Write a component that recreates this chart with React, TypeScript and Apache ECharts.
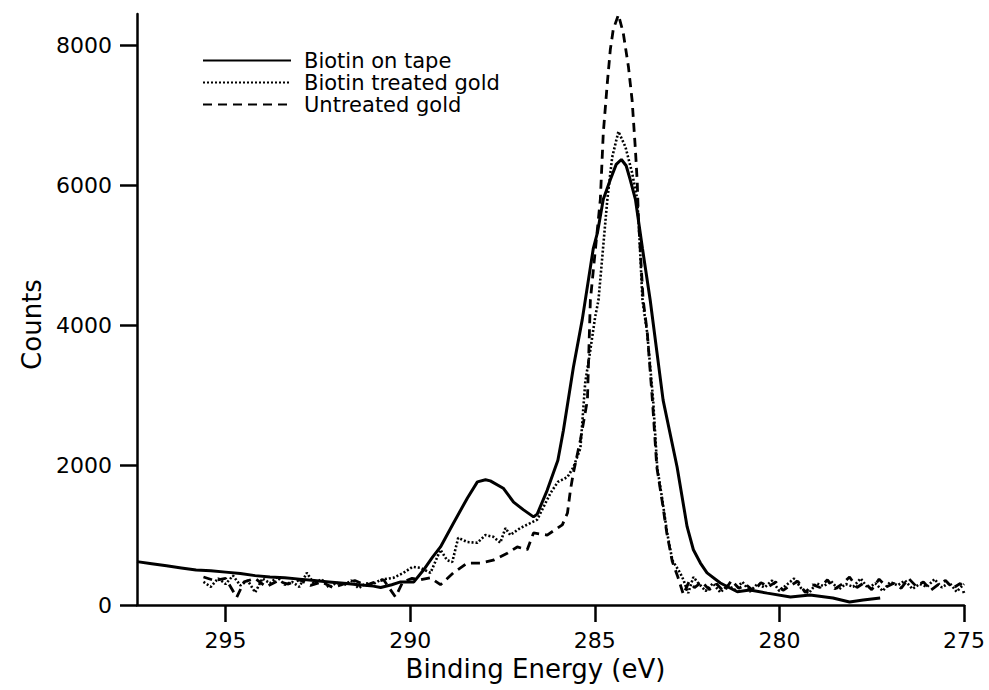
import React, { useEffect, useRef } from "react";
import * as echarts from "echarts";

const xTicks = [295, 290, 285, 280, 275];
const yTicks = [0, 2000, 4000, 6000, 8000];

const seriesNames = ["Biotin on tape", "Biotin treated gold", "Untreated gold"];

const tapeEnergy = [
  297.4, 297.0, 296.6, 296.2, 295.8, 295.4, 295.0, 294.6, 294.2, 293.8, 293.4, 293.0, 292.6, 292.2, 291.8,
  291.4, 291.0, 290.8, 290.5, 290.26, 289.9, 289.64, 289.4, 289.18, 288.83, 288.45, 288.18, 287.96, 287.83,
  287.48, 287.2, 286.93, 286.66, 286.56, 286.29, 286.0, 285.85, 285.58, 285.34, 285.04, 284.93, 284.77, 284.58,
  284.42, 284.28, 284.15, 284.04, 283.9, 283.71, 283.5, 283.15, 282.77, 282.5, 282.33, 282.14, 281.96, 281.6,
  281.14, 280.8, 280.33, 279.7, 279.17, 278.55, 278.1, 277.73, 277.27,
];
const tapeCounts = [
  620, 590, 560, 530, 500, 490, 470, 450, 420, 400, 390, 370, 350, 330, 310,
  290, 270, 250, 290, 330, 330, 500, 680, 830, 1170, 1530, 1760, 1790, 1775,
  1670, 1470, 1360, 1260, 1300, 1640, 2070, 2500, 3400, 4080, 5100, 5320, 5800, 6080,
  6300, 6370, 6280, 6080, 5800, 5100, 4360, 2930, 1970, 1120, 790, 600, 460, 315,
  190, 215, 170, 115, 143, 100, 43, 71, 100,
];

const treatedEnergy = [
  295.6, 295.4, 295.2, 295.0, 294.8, 294.6, 294.4, 294.2, 294.0, 293.8, 293.6, 293.4, 293.2, 293.0, 292.8,
  292.6, 292.4, 292.2, 292.0, 291.8, 291.6, 291.4, 291.2, 291.0, 290.8, 290.45, 290.18, 289.94, 289.72, 289.45,
  289.18, 289.0, 288.86, 288.7, 288.45, 288.18, 287.96, 287.75, 287.56, 287.42, 287.29, 287.02, 286.75, 286.56,
  286.39, 286.2, 286.0, 285.74, 285.58, 285.39, 285.26, 285.12, 284.99, 284.9, 284.66, 284.53, 284.36, 284.17,
  283.99, 283.85, 283.78, 283.71, 283.58, 283.42, 283.31, 283.17, 283.04, 282.9, 282.69, 282.6, 282.47, 282.33,
  282.2, 282.0, 281.8, 281.6, 281.4, 281.2, 281.0, 280.8, 280.6, 280.4, 280.2, 280.0, 279.8, 279.6, 279.4,
  279.2, 279.0, 278.8, 278.6, 278.4, 278.2, 278.0, 277.8, 277.6, 277.4, 277.2, 277.0, 276.8, 276.6, 276.4,
  276.2, 276.0, 275.8, 275.6, 275.4, 275.2, 275.0,
];
const treatedCounts = [
  330, 260, 380, 300, 420, 280, 350, 180, 380, 310, 400, 290, 330, 260, 460,
  300, 370, 250, 320, 280, 350, 240, 310, 300, 360, 390, 460, 545, 530, 460,
  790, 640, 615, 960, 900, 890, 1000, 975, 890, 1100, 1000, 1100, 1170, 1220,
  1400, 1600, 1760, 1830, 1970, 2240, 3180, 3650, 4120, 4360, 5800, 6400, 6770, 6550,
  6180, 5800, 5150, 4360, 3890, 2930, 1970, 1500, 1030, 640, 460, 360, 170, 400,
  315, 200, 310, 180, 280, 220, 330, 190, 300, 250, 350, 200, 290, 380, 230,
  170, 310, 270, 340, 220, 300, 260, 380, 240, 310, 200, 330, 280, 350, 230,
  300, 260, 370, 250, 320, 190, 300,
];

const untreatedEnergy = [
  295.6, 295.3, 295.0, 294.7, 294.5, 294.2, 293.9, 293.6, 293.3, 293.0, 292.7, 292.4, 292.1, 291.8, 291.5,
  291.2, 291.0, 290.72, 290.4, 290.2, 289.95, 289.72, 289.45, 289.18, 288.83, 288.45, 288.1, 287.75, 287.37,
  287.1, 286.83, 286.66, 286.29, 285.88, 285.74, 285.66, 285.58, 285.39, 285.2, 285.16, 285.12, 284.85, 284.77,
  284.66, 284.58, 284.5, 284.36, 284.23, 284.09, 283.99, 283.9, 283.85, 283.82, 283.75, 283.69, 283.58, 283.44,
  283.32, 283.18, 283.05, 282.9, 282.75, 282.6, 282.45, 282.3, 282.1, 281.9, 281.7, 281.5, 281.3, 281.1,
  280.9, 280.7, 280.5, 280.3, 280.1, 279.9, 279.7, 279.5, 279.3, 279.1, 278.9, 278.7, 278.5, 278.3, 278.1,
  277.9, 277.7, 277.5, 277.3, 277.1, 276.9, 276.7, 276.5, 276.3, 276.1, 275.9, 275.7, 275.5, 275.3, 275.1,
  275.0,
];
const untreatedCounts = [
  400, 350, 380, 110, 330, 380, 260, 340, 300, 360, 280, 330, 250, 300, 350,
  280, 320, 360, 115, 330, 380, 360, 390, 290, 460, 600, 600, 640, 740,
  830, 790, 1030, 1000, 1145, 1316, 1645, 1890, 2360, 2930, 3650, 4360, 5800, 6750,
  7470, 7940, 8230, 8440, 8180, 7700, 7220, 6510, 6040, 5550, 4900, 4360, 3900, 2930,
  1970, 1500, 1030, 620, 400, 150, 330, 250, 330, 220, 300, 190, 350, 240,
  290, 200, 320, 260, 330, 210, 280, 340, 180, 290, 250, 360, 230, 300, 400,
  250, 320, 220, 370, 260, 310, 240, 380, 270, 330, 210, 290, 350, 240, 310,
  170,
];

const FONT = "DejaVu Sans";

function pairs(xs: number[], ys: number[]) {
  return xs.map((x, i) => [x, ys[i]]);
}

export default function App() {
  const ref = useRef<HTMLDivElement>(null);
  useEffect(() => {
    if (!ref.current) return;
    const chart = echarts.init(ref.current, undefined, { renderer: "svg" });
    const common = {
      type: "line" as const,
      showSymbol: false,
      symbol: "none",
      color: "#000",
      smooth: false,
    };
    chart.setOption({
      animation: false,
      backgroundColor: "#fff",
      grid: { left: 137, right: 25, top: 14, bottom: 85, containLabel: false },
      legend: {
        orient: "vertical",
        left: 202,
        top: 50,
        padding: 0,
        itemWidth: 88,
        itemHeight: 14,
        itemGap: 1,
        data: seriesNames,
        itemStyle: { opacity: 0 },
        textStyle: { fontFamily: FONT, fontSize: 21, color: "#000", padding: [0, 0, 0, 8] },
      },
      xAxis: {
        type: "value",
        inverse: true,
        min: 275,
        max: 297.4,
        interval: 5,
        name: "Binding Energy (eV)",
        nameLocation: "middle",
        nameGap: 48,
        nameTextStyle: { fontFamily: FONT, fontSize: 26, color: "#000", padding: [0, 30, 0, 0] },
        axisLine: { show: true, onZero: false, lineStyle: { color: "#000", width: 2.5 } },
        axisTick: { show: true, inside: false, length: 17, lineStyle: { color: "#000", width: 2.5 }, customValues: xTicks },
        axisLabel: { margin: 24, fontFamily: FONT, fontSize: 22, color: "#000", customValues: xTicks, formatter: (v: number) => String(v) },
        splitLine: { show: false },
      },
      yAxis: {
        type: "value",
        min: 0,
        max: 8450,
        interval: 2000,
        name: "Counts",
        nameLocation: "middle",
        nameGap: 90,
        nameTextStyle: { fontFamily: FONT, fontSize: 26, color: "#000", padding: [0, 30, 0, 0] },
        axisLine: { show: true, lineStyle: { color: "#000", width: 2.5 } },
        axisTick: { show: true, inside: false, length: 17, lineStyle: { color: "#000", width: 2.5 }, customValues: yTicks },
        axisLabel: { margin: 25, fontFamily: FONT, fontSize: 22, color: "#000", customValues: yTicks, formatter: (v: number) => String(v) },
        splitLine: { show: false },
      },
      series: [
        {
          ...common,
          name: seriesNames[0],
          data: pairs(tapeEnergy, tapeCounts),
          lineStyle: { color: "#000", width: 3, type: "solid" },
          z: 4,
        },
        {
          ...common,
          name: seriesNames[1],
          data: pairs(treatedEnergy, treatedCounts),
          lineStyle: { color: "#000", width: 2.6, type: [2, 2] },
          z: 3,
        },
        {
          ...common,
          name: seriesNames[2],
          data: pairs(untreatedEnergy, untreatedCounts),
          lineStyle: { color: "#000", width: 2.8, type: [9, 6] },
          z: 2,
        },
      ],
    });
    return () => chart.dispose();
  }, []);
  return <div ref={ref} style={{ position: "fixed", left: 0, top: 0, width: 989, height: 690 }} />;
}
